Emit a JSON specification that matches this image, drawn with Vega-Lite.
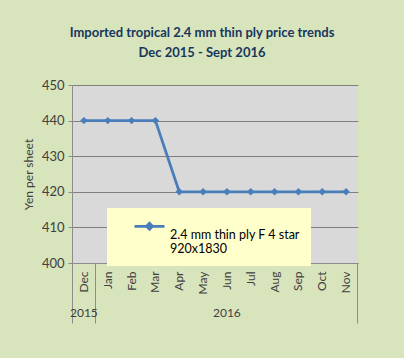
{
  "$schema": "https://vega.github.io/schema/vega-lite/v6.json",
  "width": 286,
  "height": 178,
  "autosize": {"type": "none"},
  "padding": {"left": 72, "top": 85, "right": 46, "bottom": 95},
  "background": "#D8E4BC",
  "config": {
    "font": "Lato",
    "view": {"fill": "#D9D9D9", "stroke": null}
  },
  "title": {
    "text": ["Imported tropical 2.4 mm thin ply price trends", "Dec 2015 - Sept 2016"],
    "font": "Lato",
    "fontSize": 13,
    "fontWeight": "bold",
    "color": "#17375E",
    "lineHeight": 20,
    "anchor": "middle",
    "dx": -13,
    "offset": 19
  },
  "data": {
    "values": [
      {"month": "Dec", "price": 440, "series": "2.4 mm thin ply F 4 star|920x1830"},
      {"month": "Jan", "price": 440, "series": "2.4 mm thin ply F 4 star|920x1830"},
      {"month": "Feb", "price": 440, "series": "2.4 mm thin ply F 4 star|920x1830"},
      {"month": "Mar", "price": 440, "series": "2.4 mm thin ply F 4 star|920x1830"},
      {"month": "Apr", "price": 420, "series": "2.4 mm thin ply F 4 star|920x1830"},
      {"month": "May", "price": 420, "series": "2.4 mm thin ply F 4 star|920x1830"},
      {"month": "Jun", "price": 420, "series": "2.4 mm thin ply F 4 star|920x1830"},
      {"month": "Jul", "price": 420, "series": "2.4 mm thin ply F 4 star|920x1830"},
      {"month": "Aug", "price": 420, "series": "2.4 mm thin ply F 4 star|920x1830"},
      {"month": "Sep", "price": 420, "series": "2.4 mm thin ply F 4 star|920x1830"},
      {"month": "Oct", "price": 420, "series": "2.4 mm thin ply F 4 star|920x1830"},
      {"month": "Nov", "price": 420, "series": "2.4 mm thin ply F 4 star|920x1830"}
    ]
  },
  "resolve": {"axis": {"x": "independent"}},
  "layer": [
    {
      "mark": {
        "type": "line",
        "strokeWidth": 2.75,
        "point": {"shape": "diamond", "size": 55, "filled": true}
      },
      "encoding": {
        "x": {
          "field": "month", "type": "ordinal", "sort": null,
          "scale": {"type": "band", "paddingInner": 0, "paddingOuter": 0},
          "axis": {
            "orient": "bottom", "title": null, "labelAngle": -90, "ticks": false,
            "domain": true, "domainColor": "#8C8C8C", "labelPadding": 8,
            "labelFont": "Lato", "labelFontSize": 12, "labelColor": "#404040",
            "labelAlign": "right", "labelBaseline": "middle"
          }
        },
        "y": {
          "field": "price", "type": "quantitative",
          "scale": {"domain": [400, 450], "nice": false, "zero": false},
          "axis": {
            "values": [400, 410, 420, 430, 440, 450],
            "title": "Yen per sheet", "titleFont": "Lato", "titleFontSize": 12,
            "titleFontWeight": "normal", "titleColor": "#404040", "titlePadding": 6,
            "labelFont": "Lato", "labelFontSize": 13, "labelColor": "#404040",
            "labelPadding": 4, "tickSize": 4, "tickColor": "#8C8C8C",
            "domainColor": "#8C8C8C", "gridColor": "#808080", "gridOpacity": 1
          }
        },
        "color": {
          "field": "series", "type": "nominal",
          "scale": {"range": ["#4A7EBB"]},
          "legend": {
            "title": null, "orient": "none", "legendX": 35, "legendY": 123,
            "fillColor": "#FFFFCC", "padding": 10,
            "labelExpr": "split(datum.label, '|')",
            "labelFont": "Lato", "labelFontSize": 12.5, "labelColor": "#000000",
            "labelLimit": 300, "labelOffset": 4,
            "symbolType": "M-1,-0.55L1,-0.55M0,-0.75L0.2,-0.55L0,-0.35L-0.2,-0.55Z",
            "symbolSize": 900, "symbolStrokeWidth": 2.75, "symbolOffset": 16,
            "symbolStrokeColor": "#4A7EBB", "symbolFillColor": "#4A7EBB"
          }
        }
      }
    },
    {
      "mark": {"type": "point", "opacity": 0},
      "encoding": {
        "x": {
          "field": "month", "type": "ordinal", "sort": null,
          "scale": {"type": "band", "paddingInner": 0, "paddingOuter": 0},
          "axis": {
            "orient": "bottom", "title": null, "values": ["Dec", "Jan"],
            "bandPosition": 0, "tickSize": 60, "tickColor": "#8C8C8C",
            "labels": false, "domain": false
          }
        }
      }
    },
    {
      "mark": {"type": "point", "opacity": 0},
      "encoding": {
        "x": {
          "field": "month", "type": "ordinal", "sort": null,
          "scale": {"type": "band", "paddingInner": 0, "paddingOuter": 0},
          "axis": {
            "orient": "bottom", "title": null, "values": ["Nov"],
            "bandPosition": 1, "tickSize": 60, "tickColor": "#8C8C8C",
            "labels": false, "domain": false
          }
        }
      }
    },
    {
      "mark": {"type": "point", "opacity": 0},
      "encoding": {
        "x": {
          "field": "month", "type": "ordinal", "sort": null,
          "scale": {"type": "band", "paddingInner": 0, "paddingOuter": 0},
          "axis": {
            "orient": "bottom", "title": null, "values": ["Dec", "Jun"],
            "labelExpr": "datum.value == 'Dec' ? '2015' : '2016'",
            "ticks": false, "domain": false, "labelAngle": 0,
            "labelAlign": "center", "labelBaseline": "top", "labelPadding": 44,
            "labelFont": "Lato", "labelFontSize": 12, "labelColor": "#404040"
          }
        }
      }
    }
  ]
}
